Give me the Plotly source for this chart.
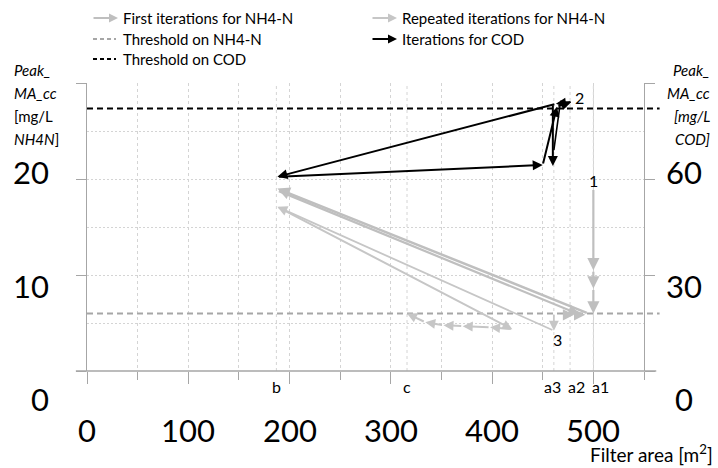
import plotly.graph_objects as go

# ---- axes -------------------------------------------------------------
x_range = [0, 550]          # filter area, m2
y_range = [0, 30]           # Peak MA_cc, mg/L NH4-N
y2_range = [0, 90]          # Peak MA_cc, mg/L COD

x_tick_labels = [0, 100, 200, 300, 400, 500]
y_tick_labels = [0, 10, 20]
y2_tick_labels = [0, 30, 60]

# ---- thresholds -------------------------------------------------------
nh4_threshold = 6.0
cod_threshold = 82.0

# ---- marked filter areas ---------------------------------------------
area_names = ["b", "c", "a3", "a2", "a1"]
area_values = [187, 316, 461, 477, 500]

# ---- iteration paths (filter area, peak concentration) ---------------
# first iterations for NH4-N
first_a1_x = [500, 500, 500, 500]
first_a1_y = [19.0, 10.5, 8.6, 6.0]
first_back_x = [495, 188]
first_back_y = [6.0, 19.0]
first_fwd_x = [188, 486]
first_fwd_y = [18.8, 5.9]
first_conv_x = [470, 481, 492]
first_conv_y = [5.85, 5.85, 5.85]

# repeated iterations for NH4-N
rep_a3_x = [461, 461]
rep_a3_y = [6.0, 4.2]
rep_back_x = [461, 188]
rep_back_y = [4.2, 17.1]
rep_fwd_x = [188, 420, 398, 371, 352, 334, 316]
rep_fwd_y = [17.1, 4.35, 4.56, 4.67, 4.77, 5.08, 6.0]

# iterations for COD
cod_main_x = [479, 463, 188, 450, 464, 478]
cod_main_y = [84.1, 83.5, 60.7, 64.4, 82.6, 84.0]
cod_down_x = [460, 460]
cod_down_y = [83.5, 64.1]
cod_side_x = [467, 461]
cod_side_y = [83.0, 69.0]

# ---- labels for numbered points ---------------------------------------
point_names = ["1", "2", "3"]
point_x = [500, 486, 465]
point_y = [19.8, 28.5, 3.3]

GRID = "#d4d4d4"
AXIS = "#a6a6a6"
FIRST = "#bfbfbf"
REPEAT = "#c6c6c6"
FONT = "Lato"

fig = go.Figure()
# invisible traces so both y axes are created
fig.add_trace(go.Scatter(x=[None], y=[None], showlegend=False))
fig.add_trace(go.Scatter(x=[None], y=[None], yaxis="y2", showlegend=False))

annotations = []


def add_path(xs, ys, color, width, yref="y", size=1.0, head=True):
    for i in range(len(xs) - 1):
        annotations.append(dict(
            x=xs[i + 1], y=ys[i + 1], ax=xs[i], ay=ys[i],
            xref="x", yref=yref, axref="x", ayref=yref,
            text="", showarrow=True, arrowhead=2 if head else 0,
            arrowsize=size, arrowwidth=width, arrowcolor=color, standoff=0,
        ))


add_path(first_a1_x, first_a1_y, FIRST, 2.2, size=1.1)
add_path(first_back_x, first_back_y, FIRST, 2.5, size=1.0)
add_path(first_fwd_x, first_fwd_y, FIRST, 2.2, size=1.0)
add_path(first_conv_x, first_conv_y, FIRST, 2.5, size=0.9)
add_path(rep_a3_x, rep_a3_y, REPEAT, 1.8, size=1.1)
add_path(rep_back_x, rep_back_y, REPEAT, 1.8, size=1.1)
add_path(rep_fwd_x, rep_fwd_y, REPEAT, 2.0, size=1.0)
add_path(cod_main_x, cod_main_y, "black", 2.0, yref="y2", size=1.0)
add_path(cod_down_x, cod_down_y, "black", 2.0, yref="y2", size=1.0)
add_path(cod_side_x, cod_side_y, "black", 1.6, yref="y2", head=False)

shapes = []
# extra grid lines at the marked areas
for v in area_values:
    shapes.append(dict(type="line", xref="x", yref="paper", x0=v, x1=v, y0=0, y1=1,
                       line=dict(color=GRID, width=1, dash="3px,3px"), layer="below"))
# thresholds
shapes.append(dict(type="line", xref="paper", yref="y", x0=0, x1=1.028,
                   y0=nh4_threshold, y1=nh4_threshold,
                   line=dict(color="#a6a6a6", width=2, dash="6px,4px")))
shapes.append(dict(type="line", xref="paper", yref="y2", x0=0, x1=1.028,
                   y0=cod_threshold, y1=cod_threshold,
                   line=dict(color="black", width=2, dash="6px,4px")))
# horizontal axis line
shapes.append(dict(type="line", xref="paper", yref="paper", x0=-0.02, x1=1.022,
                   y0=0, y1=0, line=dict(color=AXIS, width=1.5)))


def px_x(p):
    return (p - 87) / 557


def px_y(p):
    return (371 - p) / 288


# big tick labels
for v in x_tick_labels:
    annotations.append(dict(x=v, y=px_y(430), xref="x", yref="paper", text=str(v),
                            showarrow=False, font=dict(family=FONT, size=31, color="black"),
                            xanchor="center", yanchor="middle"))
for v, p in zip(y_tick_labels, [399, 286, 172]):
    annotations.append(dict(x=px_x(51), y=px_y(p), xref="paper", yref="paper", text=str(v),
                            showarrow=False, font=dict(family=FONT, size=31, color="black"),
                            xanchor="right", yanchor="middle"))
for v, p in zip(y2_tick_labels, [399, 286, 172]):
    annotations.append(dict(x=px_x(684), y=px_y(p), xref="paper", yref="paper", text=str(v),
                            showarrow=False, font=dict(family=FONT, size=31, color="black"),
                            xanchor="center", yanchor="middle"))

# marked area labels
area_label_x = [187, 316, 460, 483, 507]
for name, v in zip(area_names, area_label_x):
    annotations.append(dict(x=v, y=px_y(386), xref="x", yref="paper", text=name,
                            showarrow=False, font=dict(family=FONT, size=16, color="black"),
                            xanchor="center", yanchor="middle"))

# numbered points
for name, xv, yv in zip(point_names, point_x, point_y):
    annotations.append(dict(x=xv, y=yv, xref="x", yref="y", text=name, showarrow=False,
                            font=dict(family=FONT, size=16, color="black"),
                            xanchor="center", yanchor="middle"))

# axis titles
left_title = ["<i>Peak_</i>", "<i>MA_cc</i>", "[mg/L", "<i>NH4N</i>]"]
right_title = ["<i>Peak_</i>", "<i>MA_cc</i>", "<i>[mg/L</i>", "<i>COD]</i>"]
title_rows = [70, 93, 116, 139]
for t, p in zip(left_title, title_rows):
    annotations.append(dict(x=px_x(12), y=px_y(p), xref="paper", yref="paper", text=t,
                            showarrow=False, font=dict(family=FONT, size=15, color="black"),
                            xanchor="left", yanchor="middle"))
for t, p in zip(right_title, title_rows):
    annotations.append(dict(x=px_x(712), y=px_y(p), xref="paper", yref="paper", text=t,
                            showarrow=False, font=dict(family=FONT, size=15, color="black"),
                            xanchor="right", yanchor="middle"))
annotations.append(dict(x=px_x(715), y=px_y(453), xref="paper", yref="paper",
                        text="Filter area [m<sup>2</sup>]", showarrow=False,
                        font=dict(family=FONT, size=19, color="black"),
                        xanchor="right", yanchor="middle"))

# legend
legend_items = [
    ("arrow", FIRST, 118, 18, 121, "First iterations for NH4-N"),
    ("dash", "#a6a6a6", 93, 39, 121, "Threshold on NH4-N"),
    ("dash", "black", 93, 59, 121, "Threshold on COD"),
    ("arrow", REPEAT, 397, 18, 400, "Repeated iterations for NH4-N"),
    ("arrow", "black", 397, 39, 400, "Iterations for COD"),
]
for kind, color, sx, sy, tx, label in legend_items:
    if kind == "arrow":
        annotations.append(dict(x=px_x(sx), y=px_y(sy), xref="paper", yref="paper",
                                ax=-26, ay=0, text="", showarrow=True, arrowhead=2,
                                arrowsize=0.9, arrowwidth=2, arrowcolor=color, standoff=0))
    else:
        shapes.append(dict(type="line", xref="paper", yref="paper",
                           x0=px_x(sx), x1=px_x(sx + 23), y0=px_y(sy), y1=px_y(sy),
                           line=dict(color=color, width=2, dash="4px,3px")))
    annotations.append(dict(x=px_x(tx), y=px_y(sy), xref="paper", yref="paper", text=label,
                            showarrow=False, font=dict(family=FONT, size=15, color="black"),
                            xanchor="left", yanchor="middle"))

fig.update_layout(
    width=718, height=468, autosize=False,
    margin=dict(l=87, r=74, t=83, b=97),
    paper_bgcolor="white", plot_bgcolor="white",
    showlegend=False,
    xaxis=dict(range=x_range, showline=False, zeroline=False,
               tickmode="linear", tick0=0, dtick=100, ticks="outside", ticklen=12,
               tickcolor=AXIS, showticklabels=False,
               showgrid=True, gridcolor=GRID, griddash="3px,3px", gridwidth=1,
               minor=dict(tickmode="linear", tick0=0, dtick=50, ticks="outside", ticklen=8,
                          tickcolor=AXIS, showgrid=True, gridcolor=GRID,
                          griddash="3px,3px")),
    yaxis=dict(range=y_range, showline=True, linecolor=AXIS, linewidth=1.2, zeroline=False,
               tickmode="linear", tick0=0, dtick=10, ticks="outside", ticklen=10,
               tickcolor=AXIS, showticklabels=False,
               showgrid=True, gridcolor=GRID, griddash="2px,2px",
               minor=dict(tickmode="linear", tick0=0, dtick=5, showgrid=True,
                          gridcolor=GRID, griddash="2px,2px")),
    yaxis2=dict(range=y2_range, overlaying="y", side="right", showline=True, linecolor=AXIS,
                linewidth=1.2, zeroline=False, tickmode="linear", tick0=0, dtick=30,
                ticks="outside", ticklen=10, tickcolor=AXIS, showticklabels=False,
                showgrid=False),
    annotations=annotations,
    shapes=shapes,
)

fig.write_html("out.html")
